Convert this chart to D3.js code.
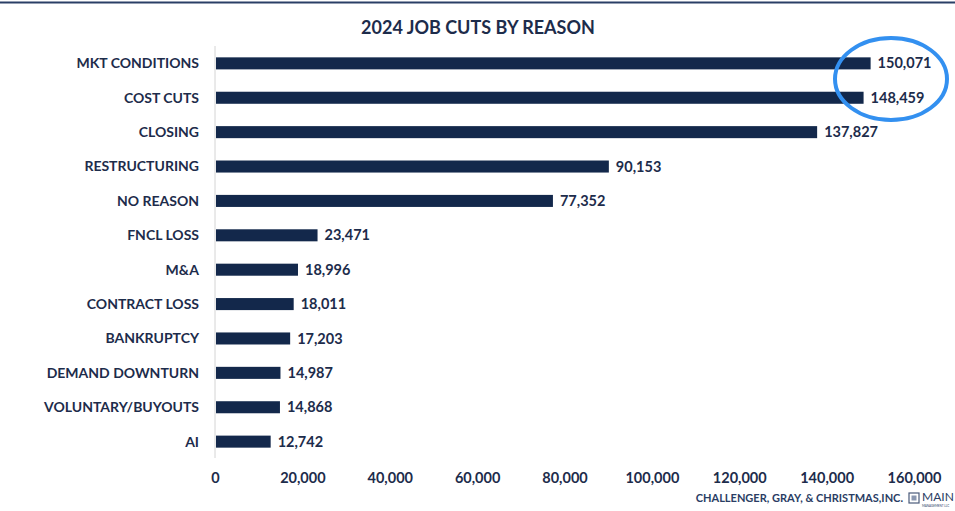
<!DOCTYPE html>
<html>
<head>
<meta charset="utf-8">
<script src="https://cdn.jsdelivr.net/npm/d3@7"></script>
<style>
  html, body { margin: 0; padding: 0; background: #fff; }
  svg { display: block; }
  text { font-family: Lato, "Open Sans", sans-serif; }
</style>
</head>
<body>
<svg id="chart" width="955" height="511"></svg>
<script>
// 2024 job cuts by stated reason
const reasons = ["MKT CONDITIONS", "COST CUTS", "CLOSING", "RESTRUCTURING", "NO REASON",
  "FNCL LOSS", "M&A", "CONTRACT LOSS", "BANKRUPTCY", "DEMAND DOWNTURN",
  "VOLUNTARY/BUYOUTS", "AI"];
const cuts = [150071, 148459, 137827, 90153, 77352, 23471, 18996, 18011, 17203, 14987, 14868, 12742];
const ticks = [0, 20000, 40000, 60000, 80000, 100000, 120000, 140000, 160000];

const navy = "#13284b";
const textColor = "#1d2c4b";

const svg = d3.select("#chart");

// top rule
svg.append("line")
  .attr("x1", 0).attr("x2", 955).attr("y1", 2.5).attr("y2", 2.5)
  .attr("stroke", "#2a3f66").attr("stroke-width", 2);

// title
svg.append("text")
  .attr("x", 478).attr("y", 34)
  .attr("text-anchor", "middle")
  .attr("font-size", 18).attr("font-weight", 700)
  .attr("fill", textColor)
  .text("2024 JOB CUTS BY REASON");

const x = d3.scaleLinear().domain([0, 160000]).range([215, 914]);
const y = d3.scaleBand().domain(reasons).range([46, 459]).paddingInner(0.65).paddingOuter(0.33);

// vertical category axis line
svg.append("line")
  .attr("x1", 215).attr("x2", 215).attr("y1", 46).attr("y2", 458)
  .attr("stroke", "#d4d4d4").attr("stroke-width", 1);

const data = reasons.map((r, i) => ({ reason: r, value: cuts[i] }));

svg.append("g").selectAll("rect").data(data).join("rect")
  .attr("x", x(0) + 1)
  .attr("y", d => y(d.reason))
  .attr("width", d => x(d.value) - x(0) - 1)
  .attr("height", y.bandwidth())
  .attr("fill", navy);

// category labels
svg.append("g").selectAll("text").data(data).join("text")
  .attr("x", 199)
  .attr("y", d => y(d.reason) + y.bandwidth() / 2)
  .attr("dy", "0.35em")
  .attr("text-anchor", "end")
  .attr("font-size", 14).attr("font-weight", 700)
  .attr("fill", textColor)
  .text(d => d.reason);

// value labels
const fmt = d3.format(",");
svg.append("g").selectAll("text").data(data).join("text")
  .attr("x", d => x(d.value) + 7)
  .attr("y", d => y(d.reason) + y.bandwidth() / 2)
  .attr("dy", "0.35em")
  .attr("font-size", 14.5).attr("font-weight", 700)
  .attr("fill", textColor)
  .text(d => fmt(d.value));

// x axis tick labels
const xAxis = d3.axisBottom(x).tickValues(ticks).tickFormat(fmt).tickSize(0).tickPadding(0);
const gx = svg.append("g").attr("transform", "translate(0,473)").call(xAxis);
gx.select(".domain").remove();
gx.selectAll("text")
  .attr("font-family", "Lato, 'Open Sans', sans-serif")
  .attr("font-size", 14.5).attr("font-weight", 700)
  .attr("fill", textColor);

// highlight ring around the two leading reasons
svg.append("ellipse")
  .attr("cx", 891).attr("cy", 79).attr("rx", 56).attr("ry", 41)
  .attr("fill", "none").attr("stroke", "#3390f0").attr("stroke-width", 4);

// source credit
svg.append("text")
  .attr("x", 903).attr("y", 502)
  .attr("text-anchor", "end")
  .attr("font-size", 11).attr("font-weight", 700)
  .attr("fill", "#2a3d64")
  .text("CHALLENGER, GRAY, & CHRISTMAS,INC.");

// logo mark
const logo = svg.append("g").attr("transform", "translate(909,493)");
logo.append("rect").attr("x", 0).attr("y", 0).attr("width", 10).attr("height", 10)
  .attr("fill", "none").attr("stroke", "#4a5a7a").attr("stroke-width", 1.2);
logo.append("rect").attr("x", 2.5).attr("y", 2.5).attr("width", 5).attr("height", 5)
  .attr("fill", "#8a97b0");
svg.append("text")
  .attr("x", 922).attr("y", 501)
  .attr("font-family", "'Liberation Serif', serif")
  .attr("font-size", 12)
  .attr("fill", "#2a3d64")
  .text("MAIN");
svg.append("text")
  .attr("x", 922).attr("y", 507)
  .attr("font-size", 3)
  .attr("fill", "#2a3d64")
  .text("MANAGEMENT LLC");
</script>
</body>
</html>
